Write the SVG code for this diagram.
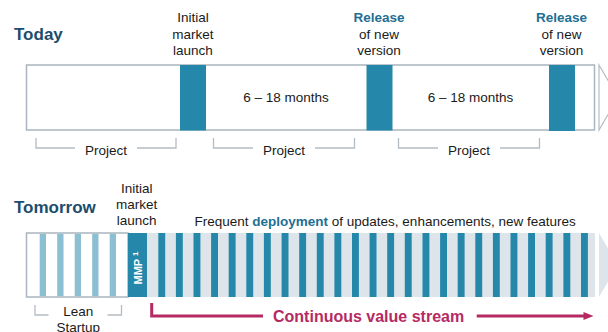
<svg xmlns="http://www.w3.org/2000/svg" width="608" height="332" viewBox="0 0 608 332">
  <style>
    text { font-family: "Liberation Sans", Arial, sans-serif; font-size: 13.5px; fill: #1a1a1a; }
    .title { font-size: 17px; font-weight: bold; fill: #1b4d6d; }
    .mid { text-anchor: middle; }
    .hl { font-weight: bold; fill: #1f6f93; }
    .frame { fill: #ffffff; stroke: #aab5bf; stroke-width: 1.5; }
    .block { fill: #2588aa; }
    .lite { fill: #8cbfd2; }
    .band { fill: #dde4ea; }
    .bracket { fill: none; stroke: #b3bcc4; stroke-width: 1.3; }
    .stream { fill: none; stroke: #b52a62; stroke-width: 3; }
  </style>

  <!-- Today: release cycle -->
  <g id="today">
    <text class="title" x="14" y="39.5">Today</text>
    <rect class="frame" x="26.5" y="65" width="568" height="65"/>
    <polygon points="599,65 618,97.5 599,130" fill="none" stroke="#b3bcc4" stroke-width="1.2"/>
  </g>

  <g id="launch-today">
    <rect class="block" x="180" y="65" width="26" height="65.5"/>
    <text class="mid" x="193" y="22">Initial</text>
    <text class="mid" x="193" y="38.5">market</text>
    <text class="mid" x="193" y="55">launch</text>
  </g>

  <g id="release-1">
    <rect class="block" x="366.5" y="65" width="26" height="65.5"/>
    <text class="mid hl" x="379" y="22">Release</text>
    <text class="mid" x="379" y="38.5">of new</text>
    <text class="mid" x="379" y="55">version</text>
  </g>

  <g id="release-2">
    <rect class="block" x="549" y="65" width="26" height="66"/>
    <text class="mid hl" x="561.5" y="22">Release</text>
    <text class="mid" x="561.5" y="38.5">of new</text>
    <text class="mid" x="561.5" y="55">version</text>
  </g>

  <g id="durations">
    <text class="mid" x="286" y="102">6 – 18 months</text>
    <text class="mid" x="470.5" y="102">6 – 18 months</text>
  </g>

  <g id="projects">
    <path class="bracket" d="M36,138 V148 H75 M137,148 H176 V138"/>
    <text class="mid" x="106" y="154.5">Project</text>
    <path class="bracket" d="M213.5,138 V148 H253 M315,148 H354.5 V138"/>
    <text class="mid" x="284" y="154.5">Project</text>
    <path class="bracket" d="M398.5,138 V148 H438 M500,148 H539.5 V138"/>
    <text class="mid" x="469" y="154.5">Project</text>
  </g>

  <!-- Tomorrow: continuous delivery -->
  <g id="tomorrow">
    <text class="title" x="14" y="213">Tomorrow</text>
    <text x="194.5" y="226">Frequent <tspan class="hl">deployment</tspan> of updates, enhancements, new features</text>
  </g>

  <g id="lean-startup">
    <rect class="frame" x="26.5" y="233" width="101.5" height="64"/>
    <rect class="lite" x="39.7" y="233.8" width="6.3" height="62.4"/>
    <rect class="lite" x="57.2" y="233.8" width="6.3" height="62.4"/>
    <rect class="lite" x="74.7" y="233.8" width="6.3" height="62.4"/>
    <rect class="lite" x="92.2" y="233.8" width="6.3" height="62.4"/>
    <rect class="lite" x="109.7" y="233.8" width="6.3" height="62.4"/>
    <path class="bracket" d="M35,305 V315 H48.5 M107.5,315 H121.5 V305"/>
    <text class="mid" x="78.3" y="316">Lean</text>
    <text class="mid" x="78.3" y="332">Startup</text>
  </g>

  <g id="mmp">
    <rect class="block" x="128" y="233" width="19" height="64"/>
    <text transform="translate(142,268) rotate(-90)" text-anchor="middle" style="font-size:11px;font-weight:bold;fill:#ffffff">MMP <tspan style="font-size:8px" dy="-4">1</tspan></text>
    <text class="mid" x="136.7" y="192.5">Initial</text>
    <text class="mid" x="136.7" y="208.5">market</text>
    <text class="mid" x="136.7" y="225">launch</text>
  </g>

  <g id="deployments">
    <rect class="band" x="147" y="233" width="448" height="64"/>
    <polygon class="band" points="599,233 618,265 599,297"/>
    <g class="block">
      <rect x="158.3" y="233" width="6.9" height="64"/>
      <rect x="175.9" y="233" width="6.9" height="64"/>
      <rect x="193.5" y="233" width="6.9" height="64"/>
      <rect x="211.1" y="233" width="6.9" height="64"/>
      <rect x="228.7" y="233" width="6.9" height="64"/>
      <rect x="246.3" y="233" width="6.9" height="64"/>
      <rect x="263.9" y="233" width="6.9" height="64"/>
      <rect x="281.6" y="233" width="6.9" height="64"/>
      <rect x="299.2" y="233" width="6.9" height="64"/>
      <rect x="316.8" y="233" width="6.9" height="64"/>
      <rect x="334.4" y="233" width="6.9" height="64"/>
      <rect x="352.0" y="233" width="6.9" height="64"/>
      <rect x="369.6" y="233" width="6.9" height="64"/>
      <rect x="387.2" y="233" width="6.9" height="64"/>
      <rect x="404.8" y="233" width="6.9" height="64"/>
      <rect x="422.5" y="233" width="6.9" height="64"/>
      <rect x="440.1" y="233" width="6.9" height="64"/>
      <rect x="457.7" y="233" width="6.9" height="64"/>
      <rect x="475.3" y="233" width="6.9" height="64"/>
      <rect x="492.9" y="233" width="6.9" height="64"/>
      <rect x="510.5" y="233" width="6.9" height="64"/>
      <rect x="528.1" y="233" width="6.9" height="64"/>
      <rect x="545.7" y="233" width="6.9" height="64"/>
      <rect x="563.4" y="233" width="6.9" height="64"/>
      <rect x="581.0" y="233" width="6.9" height="64"/>
    </g>
  </g>

  <!-- value stream connector -->
  <g id="connectors">
    <path class="stream" d="M151.7,303 V316 H263"/>
    <path class="stream" d="M476.7,316 H586"/>
    <polygon points="583.5,312 593.5,316 583.5,320" fill="#b52a62"/>
  </g>
  <g id="value-stream-label">
    <text x="273" y="321.5" style="font-size:16px;font-weight:bold;fill:#b52a62">Continuous value stream</text>
  </g>
</svg>
